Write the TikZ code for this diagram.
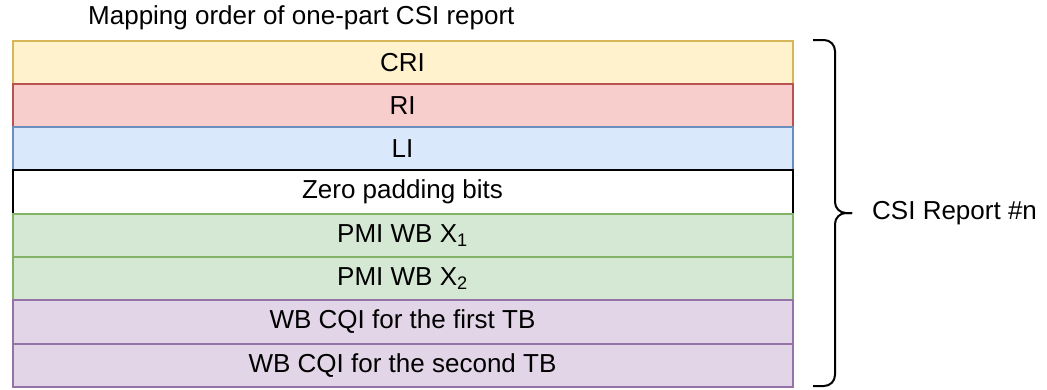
\documentclass[tikz,border=0pt]{standalone}
\usepackage{fontspec}
\setmainfont{Liberation Sans}
\definecolor{yfill}{HTML}{FFF2CC}\definecolor{ydraw}{HTML}{D6B656}
\definecolor{rfill}{HTML}{F8CECC}\definecolor{rdraw}{HTML}{B85450}
\definecolor{bfill}{HTML}{DAE8FC}\definecolor{bdraw}{HTML}{6C8EBF}
\definecolor{gfill}{HTML}{D5E8D4}\definecolor{gdraw}{HTML}{82B366}
\definecolor{pfill}{HTML}{E1D5E7}\definecolor{pdraw}{HTML}{9673A6}
\begin{document}
\begin{tikzpicture}[x=1pt,y=-1pt,
  field/.style={draw, line width=2pt, minimum width=780pt, minimum height=43.3pt,
    inner sep=0pt, anchor=north west, font=\fontsize{26}{30}\selectfont},
  lbl/.style={inner sep=0pt, anchor=west, font=\fontsize{26}{30}\selectfont}]
\useasboundingbox (0,0) rectangle (1047,389);
% report fields, top to bottom
\node[field, fill=yfill, draw=ydraw] (cri)  at (11.5,39.5) {CRI};
\node[field, fill=rfill, draw=rdraw] (ri)   at (11.5,82.8) {RI};
\node[field, fill=bfill, draw=bdraw] (li)   at (11.5,126.1) {LI};
\node[field, fill=white, draw=black] (zero) at (11.5,169.4) {Zero padding bits};
\node[field, fill=gfill, draw=gdraw] (pmi1) at (11.5,212.7) {PMI WB X\textsubscript{1}};
\node[field, fill=gfill, draw=gdraw] (pmi2) at (11.5,256.0) {PMI WB X\textsubscript{2}};
\node[field, fill=pfill, draw=pdraw] (cqi1) at (11.5,299.3) {WB CQI for the first TB};
\node[field, fill=pfill, draw=pdraw] (cqi2) at (11.5,342.6) {WB CQI for the second TB};
% title
\node[lbl] (title) at (88,18) {Mapping order of one-part CSI report};
% curly bracket spanning the report
\coordinate (btop) at (813,40);
\coordinate (bbot) at (813,386);
\coordinate (tip) at (852,213);
\draw[line width=2pt, rounded corners=11pt] (btop) -| (835,213) -- (tip);
\draw[line width=2pt, rounded corners=11pt] (tip) -- (835,213) |- (bbot);
\node[lbl] (rep) at (872,213) {CSI Report \#n};
\end{tikzpicture}
\end{document}
